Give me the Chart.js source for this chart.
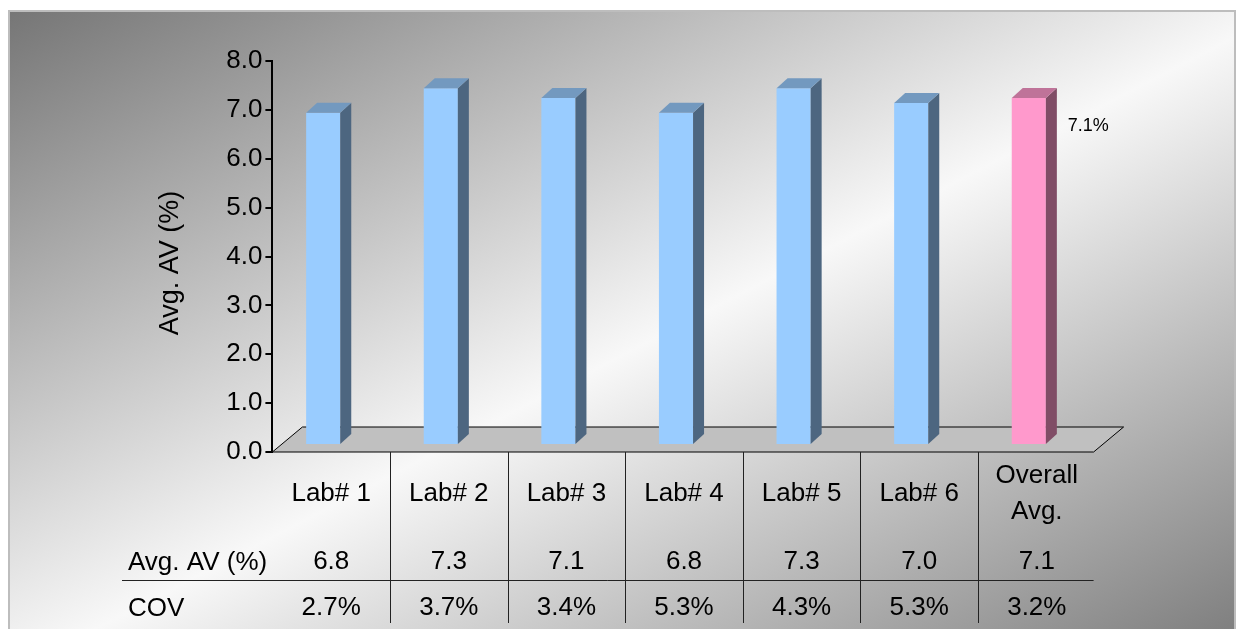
<!DOCTYPE html>
<html>
<head>
<meta charset="utf-8">
<script src="https://cdn.jsdelivr.net/npm/chart.js@4.4.0/dist/chart.umd.min.js"></script>
<style>
  html, body { margin: 0; padding: 0; background: #fff; overflow: hidden; }
  #wrap { position: relative; width: 1236px; height: 629px; }
  #frame {
    position: absolute; left: 8px; top: 10px; width: 1228px; height: 640px;
    box-sizing: border-box; border: 2px solid #bdbdbd;
    background: linear-gradient(to bottom right, #767676 0%, #f8f8f8 52%, #7c7c7c 100%);
  }
  canvas { position: absolute; left: 0; top: 0; }
</style>
</head>
<body>
<div id="wrap">
  <div id="frame"></div>
  <canvas id="avChart" width="1236" height="629"></canvas>
</div>
<script>
// ---- data ----
const labs = ["Lab# 1", "Lab# 2", "Lab# 3", "Lab# 4", "Lab# 5", "Lab# 6", ["Overall", "Avg."]];
const avgAV = [6.8, 7.3, 7.1, 6.8, 7.3, 7.0, 7.1];
const cov = [2.7, 3.7, 3.4, 5.3, 4.3, 5.3, 3.2];
const rowLabels = ["Avg. AV (%)", "COV"];
const yTicks = [0, 1, 2, 3, 4, 5, 6, 7, 8];
const yTitle = "Avg. AV (%)";

// ---- look ----
const FONT = "'Liberation Sans', Arial, sans-serif";
Chart.defaults.font.family = FONT;

const OVERALL = labs.length - 1;
const front = labs.map((_, i) => (i === OVERALL ? "#FF99CC" : "#99CCFF"));
const topFace = labs.map((_, i) => (i === OVERALL ? "#BF7399" : "#7399BF"));
const sideFace = labs.map((_, i) => (i === OVERALL ? "#804D66" : "#4D6680"));

// bars stand a bit behind the axis plane, with a small depth
const SHIFT_X = -8, SHIFT_Y = -7;
const DEPTH_X = 11, DEPTH_Y = -10;
const FLOOR_DX = 30, FLOOR_DY = -25;

const bar3d = {
  id: "bar3d",
  beforeDatasetsDraw(chart) {
    const { ctx, chartArea: a } = chart;
    // floor
    ctx.save();
    ctx.beginPath();
    ctx.moveTo(a.left, a.bottom);
    ctx.lineTo(a.left + FLOOR_DX, a.bottom + FLOOR_DY);
    ctx.lineTo(a.right + FLOOR_DX - 2, a.bottom + FLOOR_DY);
    ctx.lineTo(a.right - 2, a.bottom);
    ctx.closePath();
    ctx.fillStyle = "#c0c0c0";
    ctx.fill();
    ctx.strokeStyle = "#000";
    ctx.lineWidth = 1;
    ctx.stroke();
    ctx.restore();

    ctx.save();
    ctx.translate(SHIFT_X, SHIFT_Y);
  },
  afterDatasetsDraw(chart) {
    const ctx = chart.ctx;
    const bars = chart.getDatasetMeta(0).data;
    bars.forEach((bar, i) => {
      const l = bar.x - bar.width / 2;
      const r = bar.x + bar.width / 2;
      const t = bar.y;
      const b = bar.base;
      // side face
      ctx.beginPath();
      ctx.moveTo(r, b);
      ctx.lineTo(r + DEPTH_X, b + DEPTH_Y);
      ctx.lineTo(r + DEPTH_X, t + DEPTH_Y);
      ctx.lineTo(r, t);
      ctx.closePath();
      ctx.fillStyle = sideFace[i];
      ctx.fill();
      // top face
      ctx.beginPath();
      ctx.moveTo(l, t);
      ctx.lineTo(l + DEPTH_X, t + DEPTH_Y);
      ctx.lineTo(r + DEPTH_X, t + DEPTH_Y);
      ctx.lineTo(r, t);
      ctx.closePath();
      ctx.fillStyle = topFace[i];
      ctx.fill();
    });
    ctx.restore();

    // value label on the overall bar
    const ob = bars[OVERALL];
    ctx.save();
    ctx.font = "18px " + FONT;
    ctx.fillStyle = "#000";
    ctx.textAlign = "left";
    ctx.textBaseline = "middle";
    ctx.fillText(avgAV[OVERALL].toFixed(1) + "%", ob.x + ob.width / 2 + SHIFT_X + 22, ob.y + SHIFT_Y + 28);
    ctx.restore();
  },
};

// data table under the floor, plus the rotated axis title
const dataTable = {
  id: "dataTable",
  afterDraw(chart) {
    const { ctx, chartArea: a } = chart;
    const x = chart.scales.x;
    const colW = (a.right - a.left) / labs.length;
    const y0 = a.bottom;

    ctx.save();
    ctx.strokeStyle = "#222";
    ctx.lineWidth = 1;
    // column dividers
    for (let i = 0; i < labs.length - 1; i++) {
      const px = Math.round(x.getPixelForValue(i) + colW / 2) + 0.5;
      ctx.beginPath();
      ctx.moveTo(px, y0);
      ctx.lineTo(px, y0 + 171);
      ctx.stroke();
    }
    // row separator
    ctx.beginPath();
    ctx.moveTo(122, y0 + 128.5);
    ctx.lineTo(a.right - 2, y0 + 128.5);
    ctx.stroke();

    ctx.fillStyle = "#000";
    ctx.font = "26px " + FONT;
    ctx.textAlign = "center";
    labs.forEach((lab, i) => {
      const cx = x.getPixelForValue(i);
      const lines = Array.isArray(lab) ? lab : [lab];
      ctx.textBaseline = "middle";
      lines.forEach((ln, k) => {
        ctx.fillText(ln, cx, y0 + 42 + (k - (lines.length - 1) / 2) * 36);
      });
      ctx.textBaseline = "alphabetic";
      ctx.fillText(avgAV[i].toFixed(1), cx, y0 + 117);
      ctx.fillText(cov[i].toFixed(1) + "%", cx, y0 + 163);
    });

    ctx.textAlign = "left";
    ctx.fillText(rowLabels[0], 128, y0 + 118);
    ctx.fillText(rowLabels[1], 128, y0 + 164);

    // y axis title
    ctx.translate(171, 263);
    ctx.rotate(-Math.PI / 2);
    ctx.textAlign = "center";
    ctx.textBaseline = "middle";
    ctx.font = "27px " + FONT;
    ctx.fillText(yTitle, 0, 0);
    ctx.restore();
  },
};

new Chart(document.getElementById("avChart"), {
  type: "bar",
  data: {
    labels: labs,
    datasets: [
      {
        data: avgAV,
        backgroundColor: front,
        borderWidth: 0,
        barPercentage: 0.29,
        categoryPercentage: 1,
        clip: false,
      },
    ],
  },
  options: {
    responsive: false,
    animation: false,
    layout: { padding: { left: 140, right: 140.4, top: 61, bottom: 177 } },
    plugins: { legend: { display: false }, tooltip: { enabled: false } },
    scales: {
      x: { display: false, offset: true },
      y: {
        min: yTicks[0],
        max: yTicks[yTicks.length - 1],
        afterBuildTicks: (s) => { s.ticks = yTicks.map((v) => ({ value: v })); },
        afterFit: (s) => { s.width = 132.4; },
        ticks: {
          callback: (v) => Number(v).toFixed(1),
          color: "#000",
          font: { size: 26 },
          padding: 3,
        },
        grid: { drawOnChartArea: false, drawTicks: true, tickLength: 7, color: "#000", lineWidth: 2 },
        border: { display: true, color: "#000", width: 2 },
      },
    },
  },
  plugins: [bar3d, dataTable],
});
</script>
</body>
</html>
